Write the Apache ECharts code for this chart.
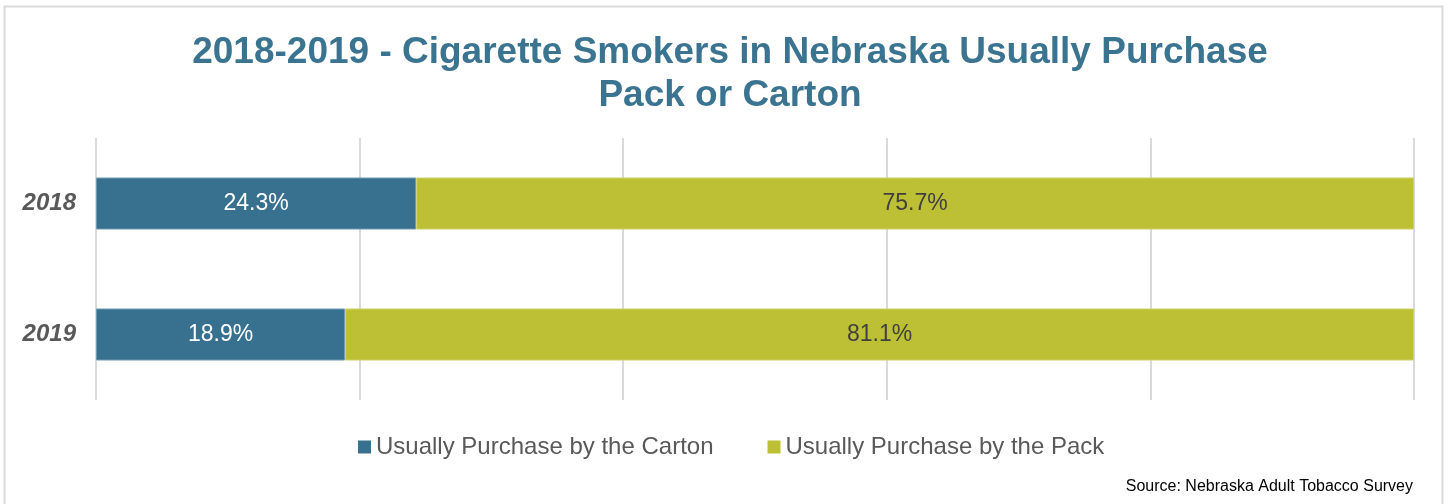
<!DOCTYPE html>
<html>
<head>
<meta charset="utf-8">
<script src="https://cdn.jsdelivr.net/npm/echarts@6/dist/echarts.min.js"></script>
<style>
html, body { margin: 0; padding: 0; background: #fff; }
#chart { width: 1450px; height: 504px; }
</style>
</head>
<body>
<div id="chart"></div>
<script>
var years = ['2018', '2019'];
var cartonVals = [24.3, 18.9];
var packVals = [75.7, 81.1];
var seriesNames = ['Usually Purchase by the Carton', 'Usually Purchase by the Pack'];

var font = '"Liberation Sans", Arial, sans-serif';

var myChart = echarts.init(document.getElementById('chart'));
var option = {
    backgroundColor: '#fff',
    textStyle: { fontFamily: font },
    title: [{
        text: '2018-2019 - Cigarette Smokers in Nebraska Usually Purchase\nPack or Carton',
        left: 725,
        top: 26,
        textAlign: 'center',
        textStyle: { fontFamily: font, fontSize: 37, fontWeight: 'bold', color: '#3B7491', lineHeight: 43 }
    }, {
        text: 'Source: Nebraska Adult Tobacco Survey',
        right: 32,
        top: 474,
        textStyle: { fontFamily: font, fontSize: 16, fontWeight: 'normal', color: '#000' }
    }],
    graphic: [{
        type: 'rect',
        shape: { x: 4.5, y: 6.5, width: 1438, height: 510 },
        style: { fill: 'none', stroke: '#D9D9D9', lineWidth: 2 },
        silent: true
    }],
    legend: {
        data: seriesNames,
        left: 353,
        top: 430,
        itemWidth: 13,
        itemHeight: 13,
        itemGap: 54,
        icon: 'rect',
        itemStyle: { borderWidth: 0 },
        textStyle: { fontFamily: font, fontSize: 24, color: '#595959' }
    },
    grid: { left: 96, right: 36, top: 138, bottom: 104, containLabel: false },
    xAxis: {
        type: 'value',
        min: 0,
        max: 100,
        interval: 20,
        axisLabel: { show: false },
        axisLine: { show: false },
        axisTick: { show: false },
        splitLine: { show: true, lineStyle: { color: '#D9D9D9', width: 2 } }
    },
    yAxis: {
        type: 'category',
        data: years,
        inverse: true,
        axisLine: { show: false },
        axisTick: { show: false },
        axisLabel: { margin: 20, fontFamily: font, fontSize: 24, fontWeight: 'bold', fontStyle: 'italic', color: '#595959' }
    },
    series: [{
        name: seriesNames[0],
        type: 'bar',
        stack: 'total',
        data: cartonVals,
        barWidth: 52,
        itemStyle: { color: '#38718F', borderColor: '#6F9BB3', borderWidth: 1 },
        label: { show: true, position: 'inside', formatter: '{c}%', fontFamily: font, fontSize: 23, color: '#fff' }
    }, {
        name: seriesNames[1],
        type: 'bar',
        stack: 'total',
        data: packVals,
        barWidth: 52,
        itemStyle: { color: '#BDC034', borderColor: '#CDD066', borderWidth: 1 },
        label: { show: true, position: 'inside', formatter: '{c}%', fontFamily: font, fontSize: 23, color: '#404040' }
    }]
};
myChart.setOption(option);
window.onresize = myChart.resize;
</script>
</body>
</html>
